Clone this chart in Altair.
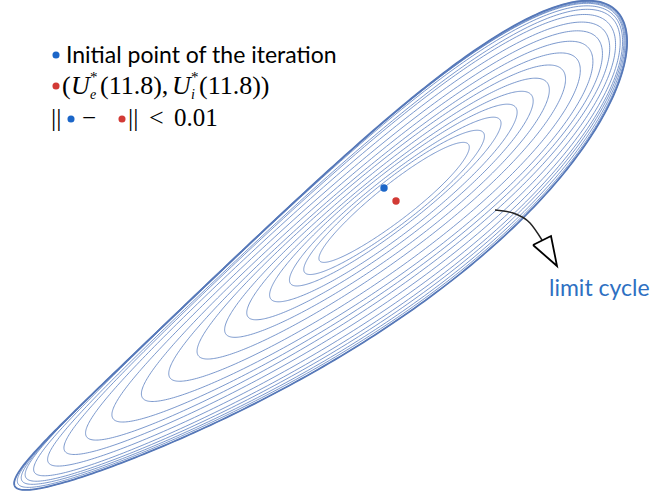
import numpy as np
import pandas as pd
import altair as alt

# Fixed point (U_e*, U_i*) and the initial point of the iteration
fixed_point = (3.96, 2.92)
initial_point = (3.84, 3.05)

# Principal direction of the orbit (degrees above horizontal)
axis_angle = 38.1

# One entry per loop of the trajectory, measured along the principal direction
loop_left = [0.97, 1.16, 1.34, 1.59, 1.88, 2.16, 2.51, 2.87, 3.21, 3.57,
             3.89, 4.15, 4.35, 4.52, 4.62, 4.67, 4.72, 4.76]
loop_right = [0.92, 1.11, 1.32, 1.52, 1.72, 1.92, 2.12, 2.30, 2.46, 2.59,
              2.69, 2.77, 2.83, 2.86, 2.88, 2.89, 2.90, 2.91]
loop_halfwidth = [0.18, 0.22, 0.25, 0.30, 0.34, 0.39, 0.44, 0.49, 0.54, 0.58,
                  0.62, 0.66, 0.69, 0.72, 0.74, 0.75, 0.76, 0.77]
loop_egg = [0.05, 0.04, 0.01, 0.04, 0.08, 0.11, 0.15, 0.20, 0.24, 0.28,
            0.32, 0.36, 0.38, 0.40, 0.41, 0.42, 0.43, 0.43]
loop_tip_offset = [0.0, 0.0, 0.0, 0.0, 0.0, 0.0, 0.0, 0.0, 0.01, 0.03,
                   0.05, 0.07, 0.08, 0.09, 0.10, 0.10, 0.10, 0.10]
loop_bend = [0.0, 0.0, 0.0, -0.01, -0.02, -0.03, -0.04, -0.06, -0.08, -0.10,
             -0.12, -0.15, -0.18, -0.20, -0.22, -0.24, -0.25, -0.26]

# Annotation arrow towards the limit cycle
arrow_x = [4.95, 5.13, 5.30, 5.42]
arrow_y = [2.83, 2.80, 2.70, 2.53]
head_x = [5.33, 5.51, 5.57, 5.33]
head_y = [2.48, 2.57, 2.27, 2.48]

W, H = 652, 493
X_DOMAIN = [0, 6.52]
Y_DOMAIN = [0, 4.93]

ang = np.radians(axis_angle)
eu = np.array([np.cos(ang), np.sin(ang)])
ev = np.array([-np.sin(ang), np.cos(ang)])

rows = []
theta = np.linspace(0, 2 * np.pi, 361)
for i in range(len(loop_left)):
    a = (loop_left[i] + loop_right[i]) / 2
    c = (loop_right[i] - loop_left[i]) / 2
    u = c + a * np.cos(theta)
    v = (loop_tip_offset[i] + loop_bend[i] * np.sin(theta) ** 2
         + loop_halfwidth[i] * np.sin(theta) * (1 + loop_egg[i] * np.cos(theta)))
    px = fixed_point[0] + u * eu[0] + v * ev[0]
    py = fixed_point[1] + u * eu[1] + v * ev[1]
    for j in range(len(theta)):
        rows.append({"loop": i, "t": j, "x": px[j], "y": py[j]})
orbit = pd.DataFrame(rows)
outer = orbit[orbit["loop"] == len(loop_left) - 1]

xs = alt.Scale(domain=X_DOMAIN, nice=False, zero=False)
ys = alt.Scale(domain=Y_DOMAIN, nice=False, zero=False)
X = alt.X("x:Q", scale=xs, axis=None)
Y = alt.Y("y:Q", scale=ys, axis=None)

loops = alt.Chart(orbit).mark_line(
    color="#5b7fc0", strokeWidth=1.0, opacity=0.8
).encode(x=X, y=Y, detail="loop:N", order="t:Q")

limit_cycle = alt.Chart(outer).mark_line(
    color="#5678b8", strokeWidth=1.8
).encode(x=X, y=Y, order="t:Q")

pts = pd.DataFrame({
    "x": [initial_point[0], fixed_point[0]],
    "y": [initial_point[1], fixed_point[1]],
    "kind": ["initial", "fixed"],
})
dots = alt.Chart(pts).mark_circle(size=55, opacity=1).encode(
    x=X, y=Y,
    color=alt.Color("kind:N", scale=alt.Scale(domain=["initial", "fixed"],
                                              range=["#1b66c8", "#d23a35"]),
                    legend=None),
)

arrow_df = pd.DataFrame({"x": arrow_x, "y": arrow_y, "o": range(len(arrow_x))})
arrow = alt.Chart(arrow_df).mark_line(
    color="#222222", strokeWidth=1.5, interpolate="monotone"
).encode(x=X, y=Y, order="o:Q")

head_df = pd.DataFrame({"x": head_x, "y": head_y, "o": range(len(head_x))})
head = alt.Chart(head_df).mark_line(
    color="#000000", strokeWidth=1.8, strokeJoin="miter"
).encode(x=X, y=Y, order="o:Q")

SANS = "Lato"
SERIF = "Liberation Serif"


def label(text, x, y, size=24, font=SERIF, style="normal", color="#000000"):
    return alt.Chart(pd.DataFrame({"t": [text]})).mark_text(
        align="left", baseline="alphabetic", font=font, fontSize=size,
        fontStyle=style
    ).encode(x=alt.value(x), y=alt.value(y), text="t:N",
             color=alt.value(color))


def glyph(x, y, color):
    return alt.Chart(pd.DataFrame({"t": [0]})).mark_circle(
        size=50, opacity=1
    ).encode(x=alt.value(x), y=alt.value(y), color=alt.value(color))


legend_layers = [
    glyph(56, 55, "#1b66c8"),
    label("Initial point of the iteration", 66, 63, size=23, font=SANS),
    glyph(56, 86, "#d23a35"),
    label("(", 62, 94, size=26),
    label("U", 71, 94, size=26, style="italic"),
    label("*", 90, 82, size=15),
    label("e", 90, 99, size=14, style="italic"),
    label("(11.8),", 100, 94, size=26),
    label("U", 172, 94, size=26, style="italic"),
    label("*", 191, 82, size=15),
    label("i", 191, 99, size=14, style="italic"),
    label("(11.8))", 199, 94, size=26),
    label("||", 51, 126, size=26),
    glyph(71, 119, "#1b66c8"),
    label("\u2212", 82, 126, size=25),
    glyph(122, 119, "#d23a35"),
    label("||", 128, 126, size=26),
    label("<", 149, 126, size=26),
    label("0.01", 174, 126, size=25),
    label("limit cycle", 549, 296, size=23, font=SANS, color="#2e70c2"),
]

chart = alt.layer(loops, limit_cycle, arrow, head, dots, *legend_layers).properties(
    width=W, height=H, padding=0, autosize=alt.AutoSizeParams(type="none")
).configure_view(stroke=None)

chart.save("out.html", embed_options={"renderer": "svg", "actions": False})
